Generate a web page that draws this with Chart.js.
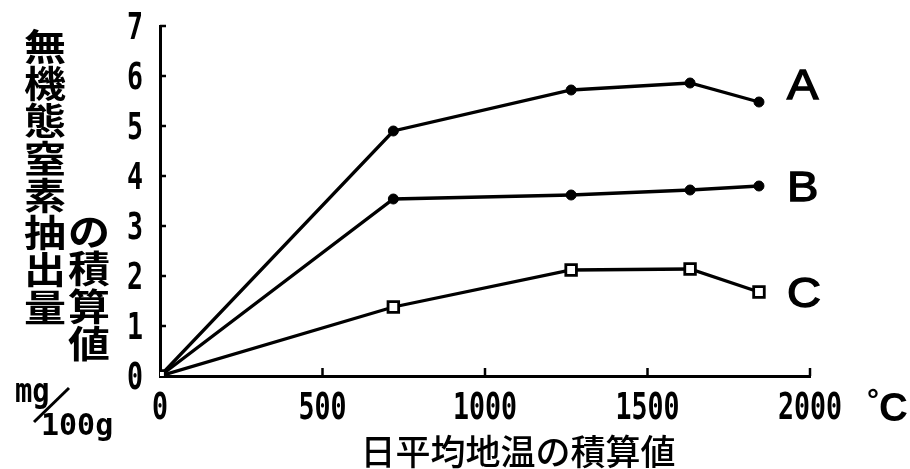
<!DOCTYPE html>
<html>
<head>
<meta charset="utf-8">
<script src="https://cdn.jsdelivr.net/npm/chart.js@4/dist/chart.umd.min.js"></script>
<style>
  html, body { margin: 0; padding: 0; background: #fff; }
  canvas { display: block; }
</style>
</head>
<body>
<canvas id="chart" width="910" height="469"></canvas>
<script>
// Accumulated daily mean soil temperature (°C) at each sampling point
const tempSums = [0, 718, 1265, 1631, 1843];
// Accumulated extractable inorganic N (mg/100g)
const seriesA = [0, 4.9, 5.72, 5.86, 5.48];
const seriesB = [0, 3.54, 3.62, 3.72, 3.8];
const seriesC = [0, 1.38, 2.12, 2.14, 1.68];
const seriesNames = ['A', 'B', 'C'];

const xTicks = [0, 500, 1000, 1500, 2000];
const yTicks = [0, 1, 2, 3, 4, 5, 6, 7];

const yTitleMain = '無機態窒素抽出量';
const yTitleSub = 'の積算値';
const yUnitTop = 'mg';
const yUnitBottom = '100g';
const xTitle = '日平均地温の積算値';

const toPoints = vals => tempSums.map((t, i) => ({ x: t, y: vals[i] }));

const INK = '#000';
const digitFont = 'bold 38px "DejaVu Sans Mono"';

// Short tick marks drawn inward from the axes, plus all axis text
const axisDecor = {
  id: 'axisDecor',
  afterDraw(chart) {
    const { ctx, chartArea, scales } = chart;
    const xs = scales.x, ys = scales.y;
    ctx.save();
    ctx.strokeStyle = INK;
    ctx.fillStyle = INK;
    ctx.lineWidth = 2.5;

    // inward ticks
    yTicks.forEach(v => {
      if (v === 0) return;
      const py = ys.getPixelForValue(v);
      ctx.beginPath();
      ctx.moveTo(chartArea.left, py);
      ctx.lineTo(chartArea.left + 6, py);
      ctx.stroke();
    });
    xTicks.forEach(v => {
      if (v === 0) return;
      const px = xs.getPixelForValue(v);
      ctx.beginPath();
      ctx.moveTo(px, chartArea.bottom);
      ctx.lineTo(px, chartArea.bottom - 8);
      ctx.stroke();
    });

    // tick labels (narrow bold digits)
    ctx.font = digitFont;
    ctx.textBaseline = 'middle';
    ctx.textAlign = 'center';
    xTicks.forEach(v => {
      const px = xs.getPixelForValue(v);
      ctx.save();
      ctx.translate(px, chartArea.bottom + 33);
      ctx.scale(0.7, 1);
      ctx.fillText(String(v), 0, 0);
      ctx.restore();
    });
    ctx.textAlign = 'right';
    yTicks.forEach(v => {
      const py = ys.getPixelForValue(v);
      ctx.save();
      ctx.translate(chartArea.left - 17, py + 3);
      ctx.scale(0.7, 1);
      ctx.fillText(String(v), 0, 0);
      ctx.restore();
    });

    // degree unit after the last x label
    ctx.textAlign = 'left';
    ctx.font = 'bold 30px "Liberation Sans"';
    ctx.fillText('°', 867, 402);
    ctx.font = 'bold 40px "Liberation Sans"';
    ctx.fillText('C', 879, 410);

    // x-axis title
    ctx.textAlign = 'center';
    ctx.font = '500 35px "Noto Sans CJK JP"';
    ctx.fillText(xTitle, 518, 452);

    // vertical y-axis title, two columns
    ctx.font = 'bold 42px "Noto Sans CJK JP"';
    const drawColumn = (text, cx, top, pitch) => {
      [...text].forEach((ch, i) => {
        ctx.save();
        ctx.translate(cx, top + pitch * (i + 0.5));
        ctx.scale(1, 0.88);
        ctx.fillText(ch, 0, 0);
        ctx.restore();
      });
    };
    drawColumn(yTitleMain, 45, 28, 37.3);
    drawColumn(yTitleSub, 89, 213, 37.5);

    // unit mg/100g
    ctx.textAlign = 'left';
    ctx.font = 'bold 36px "DejaVu Sans Mono"';
    ctx.save();
    ctx.translate(15, 393);
    ctx.scale(0.8, 0.95);
    ctx.fillText(yUnitTop, 0, 0);
    ctx.restore();
    ctx.font = 'bold 30px "DejaVu Sans Mono"';
    ctx.save();
    ctx.translate(41, 427);
    ctx.fillText(yUnitBottom, 0, 0);
    ctx.restore();
    ctx.lineWidth = 3;
    ctx.beginPath();
    ctx.moveTo(69, 388);
    ctx.lineTo(34, 422);
    ctx.stroke();
    ctx.restore();
  }
};

// Series names placed to the right of each line's last point
const seriesLabels = {
  id: 'seriesLabels',
  afterDatasetsDraw(chart, args, opts) {
    const { ctx } = chart;
    ctx.save();
    ctx.fillStyle = INK;
    ctx.font = '42px "Liberation Sans"';
    ctx.textAlign = 'left';
    ctx.textBaseline = 'middle';
    chart.data.datasets.forEach((ds, i) => {
      const meta = chart.getDatasetMeta(i);
      const last = meta.data[meta.data.length - 1];
      const dy = opts.offsets[i] || 0;
      ctx.save();
      ctx.translate(last.x + 28, last.y + dy + 1);
      ctx.scale(1.12, 1);
      ctx.lineWidth = 1.4;
      ctx.strokeStyle = INK;
      ctx.strokeText(ds.label, 0, 0);
      ctx.fillText(ds.label, 0, 0);
      ctx.restore();
    });
    ctx.restore();
  }
};

const baseLine = {
  borderColor: INK,
  borderWidth: 3.3,
  tension: 0,
  fill: false,
  pointBorderColor: INK,
};

new Chart(document.getElementById('chart'), {
  type: 'line',
  data: {
    datasets: [
      { ...baseLine, label: seriesNames[0], data: toPoints(seriesA), order: 2,
        pointStyle: 'circle', pointRadius: 5, pointBackgroundColor: INK, pointBorderWidth: 1 },
      { ...baseLine, label: seriesNames[1], data: toPoints(seriesB), order: 1,
        pointStyle: 'circle', pointRadius: 5, pointBackgroundColor: INK, pointBorderWidth: 1 },
      { ...baseLine, label: seriesNames[2], data: toPoints(seriesC), order: 0,
        pointStyle: 'rect', pointRadius: 7.5, pointBackgroundColor: '#fff', pointBorderWidth: 2.8 }
    ]
  },
  options: {
    responsive: false,
    animation: false,
    devicePixelRatio: 1,
    layout: { padding: { top: 26, right: 100, left: 0, bottom: 0 } },
    plugins: {
      legend: { display: false },
      tooltip: { enabled: false },
      seriesLabels: { offsets: [-16, 2, 2] }
    },
    scales: {
      x: {
        type: 'linear',
        min: 0, max: 2000,
        ticks: { display: false, stepSize: 500 },
        grid: { display: false },
        border: { display: true, color: INK, width: 3 },
        afterFit: s => { s.height = 93; }
      },
      y: {
        type: 'linear',
        min: 0, max: 7,
        ticks: { display: false, stepSize: 1 },
        grid: { display: false },
        border: { display: true, color: INK, width: 3 },
        afterFit: s => { s.width = 160; }
      }
    }
  },
  plugins: [seriesLabels, axisDecor]
});
</script>
</body>
</html>
